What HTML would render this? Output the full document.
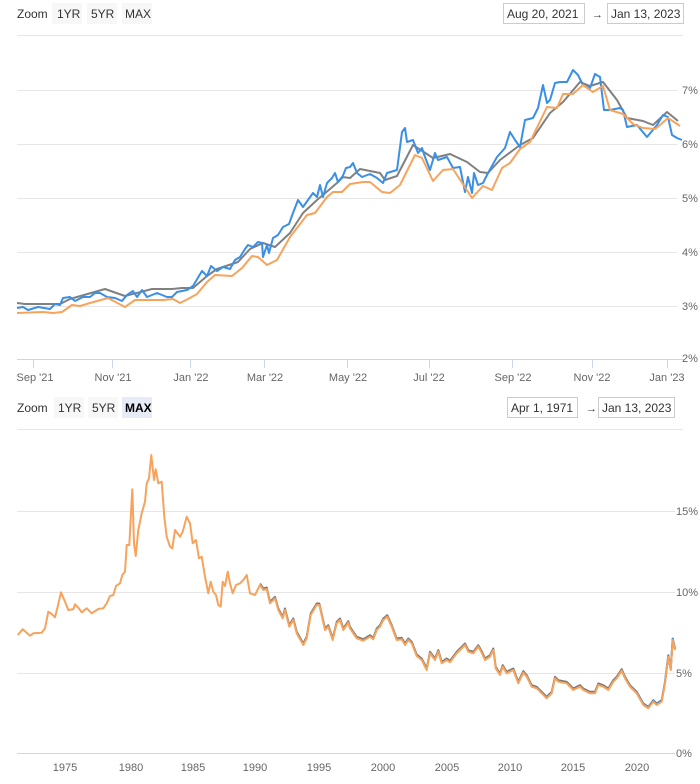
<!DOCTYPE html>
<html><head><meta charset="utf-8">
<style>
body{margin:0;background:#fff;font-family:"Liberation Sans Narrow","Liberation Sans",sans-serif;}
svg{display:block}
text{font-family:"Liberation Sans Narrow","Liberation Sans",sans-serif;}
</style></head><body>
<svg id="s" width="700" height="784" xmlns="http://www.w3.org/2000/svg">
<!-- toolbar 1 -->
<g font-size="12" fill="#333">
<text x="17" y="18">Zoom</text>
<rect x="52" y="3" width="30" height="21" fill="#f7f7f7"/><text x="57" y="18">1YR</text>
<rect x="87" y="3" width="30" height="21" fill="#f7f7f7"/><text x="91" y="18">5YR</text>
<rect x="122" y="3" width="30" height="21" fill="#f7f7f7"/><text x="125" y="18">MAX</text>
<rect x="503.5" y="3.5" width="81" height="20" fill="#fff" stroke="#ccc"/><text x="507" y="18">Aug 20, 2021</text>
<text x="592" y="18" font-size="11">→</text>
<rect x="607.5" y="3.5" width="76" height="20" fill="#fff" stroke="#ccc"/><text x="611" y="18">Jan 13, 2023</text>
<line x1="17" y1="35.5" x2="683" y2="35.5" stroke="#e6e6e6"/>
</g>
<!-- top grid -->
<g stroke="#e6e6e6" stroke-width="1">
<line x1="17" y1="90.5" x2="677" y2="90.5"/><line x1="17" y1="144.5" x2="677" y2="144.5"/>
<line x1="17" y1="198.5" x2="677" y2="198.5"/><line x1="17" y1="252.5" x2="677" y2="252.5"/>
<line x1="17" y1="306.5" x2="677" y2="306.5"/>
</g>
<line x1="17" y1="359.5" x2="684" y2="359.5" stroke="#ccd6eb"/>
<g stroke="#ccd6eb">
<line x1="33.5" y1="360" x2="33.5" y2="368"/><line x1="112.5" y1="360" x2="112.5" y2="368"/>
<line x1="190.5" y1="360" x2="190.5" y2="368"/><line x1="264.5" y1="360" x2="264.5" y2="368"/>
<line x1="347.5" y1="360" x2="347.5" y2="368"/><line x1="429.5" y1="360" x2="429.5" y2="368"/>
<line x1="512.5" y1="360" x2="512.5" y2="368"/><line x1="592.5" y1="360" x2="592.5" y2="368"/>
<line x1="667.5" y1="360" x2="667.5" y2="368"/>
</g>
<g font-size="11" fill="#666">
<text x="682" y="94">7%</text><text x="682" y="148">6%</text><text x="682" y="202">5%</text>
<text x="682" y="256">4%</text><text x="682" y="310">3%</text><text x="682" y="362">2%</text>
</g>
<g font-size="11" fill="#666" text-anchor="middle">
<text x="35" y="381">Sep '21</text><text x="113" y="381">Nov '21</text><text x="191" y="381">Jan '22</text>
<text x="265" y="381">Mar '22</text><text x="348" y="381">May '22</text><text x="429" y="381">Jul '22</text>
<text x="513" y="381">Sep '22</text><text x="592" y="381">Nov '22</text><text x="667" y="381">Jan '23</text>
</g>
<!-- toolbar 2 -->
<g font-size="12" fill="#333">
<text x="17" y="412">Zoom</text>
<rect x="54" y="397" width="30" height="21" fill="#f7f7f7"/><text x="58" y="412">1YR</text>
<rect x="88" y="397" width="30" height="21" fill="#f7f7f7"/><text x="92" y="412">5YR</text>
<rect x="122" y="397" width="30" height="21" fill="#e6ebf5"/><text x="125" y="412" font-weight="bold" fill="#000">MAX</text>
<rect x="507.5" y="397.5" width="70" height="20" fill="#fff" stroke="#ccc"/><text x="511" y="412">Apr 1, 1971</text>
<text x="586" y="412" font-size="11">→</text>
<rect x="598.5" y="397.5" width="76" height="20" fill="#fff" stroke="#ccc"/><text x="602" y="412">Jan 13, 2023</text>
<line x1="17" y1="429.5" x2="683" y2="429.5" stroke="#e6e6e6"/>
</g>
<g stroke="#e6e6e6">
<line x1="17" y1="511.5" x2="675" y2="511.5"/><line x1="17" y1="592.5" x2="675" y2="592.5"/>
<line x1="17" y1="673.5" x2="675" y2="673.5"/>
</g>
<line x1="17" y1="753.5" x2="675" y2="753.5" stroke="#ccd6eb"/>
<g font-size="11" fill="#666">
<text x="676" y="515">15%</text><text x="676" y="596">10%</text><text x="676" y="677">5%</text><text x="676" y="757">0%</text>
</g>
<g font-size="11" fill="#666" text-anchor="middle">
<text x="65" y="771">1975</text><text x="131" y="771">1980</text><text x="193" y="771">1985</text>
<text x="255" y="771">1990</text><text x="319" y="771">1995</text><text x="383" y="771">2000</text>
<text x="447" y="771">2005</text><text x="510" y="771">2010</text><text x="573" y="771">2015</text>
<text x="637" y="771">2020</text>
</g>
<g id="lines" fill="none" stroke-width="2" stroke-linejoin="round"></g>
</svg>
<script>
var gray=[17,303,25,304,60,304,70,299,105,289,125,296,152,289,172,289,182,288,193,288,207,276,217,269,238,262,250,249,263,243,275,247,290,233,303,213,317,200,337,183,342,177,350,178,360,169,380,173,385,180,397,176,413,145,433,158,450,154,467,162,480,172,488,173,500,160,520,145,533,138,550,113,563,102,580,82,590,86,603,82,617,100,627,118,643,121,653,125,667,112,678,121];
var orange=[17,313,43,312,53,313,62,312,72,305,80,306,90,303,108,298,125,307,135,300,163,300,173,299,180,303,188,299,197,294,207,282,215,275,232,276,242,268,252,256,258,257,267,265,277,260,290,237,307,215,315,213,327,197,333,192,342,192,350,184,363,182,370,182,382,192,390,193,400,185,415,155,422,158,433,181,443,170,453,169,472,198,483,186,492,190,502,168,510,163,520,149,530,142,547,107,557,108,563,94,573,94,583,85,593,92,603,86,610,110,623,114,633,124,643,128,655,129,660,125,668,118,680,126];
var blue=[17,308,23,307,28,310,38,307,50,309,55,304,60,305,63,298,70,297,75,301,83,297,90,297,95,293,100,293,107,297,115,298,122,301,127,295,133,291,137,297,142,290,147,297,157,293,167,297,172,297,177,292,187,290,193,286,202,271,207,276,211,266,217,271,223,267,230,269,235,260,240,257,245,249,248,245,253,247,258,242,262,243,263,257,267,245,269,253,273,238,278,235,283,227,289,224,293,213,298,200,303,207,308,200,313,193,317,197,320,185,323,197,327,183,332,178,335,173,338,182,342,178,346,168,350,167,353,163,357,173,362,177,370,174,377,178,383,183,387,173,397,170,402,132,405,128,407,142,413,140,418,153,422,148,425,157,430,170,435,153,438,160,447,157,453,168,460,167,465,192,468,177,472,193,474,173,478,185,483,183,488,173,497,157,505,148,510,132,515,140,520,147,525,120,533,118,538,108,543,85,547,103,550,100,555,83,560,82,567,82,573,70,578,75,583,85,590,88,595,74,600,77,604,110,610,110,620,108,623,110,627,127,637,125,647,137,657,125,663,115,668,117,672,135,677,138,682,140];
var z3=[53,615,68,598,90,617,100,610,125,608,135,595,145,545,155,552,165,562,172,535,183,487,195,515,205,540,220,538,225,523,235,533,245,547,260,535,275,550,295,537,310,535,320,520,330,498,340,495,348,468,360,460,367,435,375,425,380,345,388,345,397,178,402,340,407,378,415,300,425,250,435,215,440,160,447,145,454,75,462,150,467,118,475,160,485,155,493,260,500,320,510,350,517,355,525,300,540,320,548,305,560,260,570,280,578,340,588,330,597,385,605,380,615,440,625,490,632,455,640,485,648,495,655,525,662,530,668,455,675,468,683,425,690,460,698,490,708,465,720,460,730,450,740,435,750,490,765,495,780,465,790,480,800,477,810,520,825,505,835,540,848,565,855,540,868,590,880,570,890,610,910,645,920,625,932,555,950,525,958,525,975,600,985,590,998,630,1010,580,1020,570,1030,600,1045,578,1050,595];
var z4=[0,590,10,610,20,625,40,632,60,620,70,628,80,600,90,590,100,570,112,560,125,590,140,630,155,628,165,645,175,630,185,640,200,678,215,690,230,720,240,670,255,690,265,665,275,700,290,690,300,697,320,670,345,645,355,665,370,670,385,650,395,668,405,690,420,680,430,660,437,715,450,735,458,710,470,730,490,720,505,760,520,728,530,740,545,770,560,775,575,790,590,805,605,790,615,745,625,755,650,760,670,780,690,770,700,780,720,790,735,790,745,765,760,770,775,780,790,755,800,745,815,722,825,745,840,770,860,790,880,825,895,835,910,815,920,825,935,815,945,760,955,680,962,720,968,630,975,660];
var bot=[];
for(var i=0;i<z3.length;i+=2)bot.push(z3[i]/3,430+z3[i+1]/3);
for(var i=2;i<z4.length;i+=2)bot.push(350+z4[i]/3,430+z4[i+1]/3);
var g=document.getElementById('lines');
function pl(a,c,dy,x0){var p=[];for(var i=0;i<a.length;i+=2){if(x0&&a[i]<x0)continue;p.push(a[i].toFixed(1)+','+(a[i+1]+(dy||0)).toFixed(1));}
var e=document.createElementNS('http://www.w3.org/2000/svg','polyline');e.setAttribute('points',p.join(' '));e.setAttribute('stroke',c);g.appendChild(e);}
pl(gray,'#808080');pl(blue,'#3a8fe6');pl(orange,'#f7a35c');
pl(bot,'#7a7a7a',-1.5,260);pl(bot,'#3a8fe6',-0.8,630);pl(bot,'#f7a35c',0);
</script>
</body></html>
